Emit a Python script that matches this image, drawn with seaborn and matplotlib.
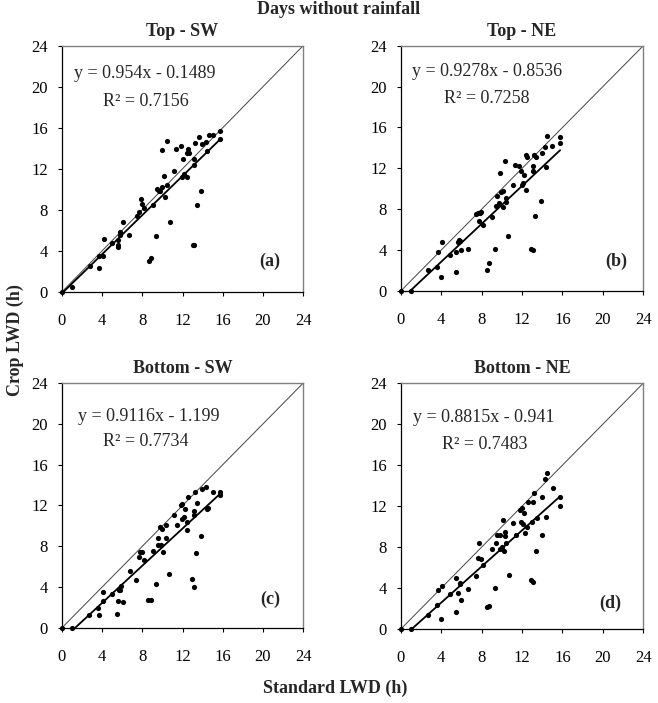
import numpy as np
import pandas as pd
import seaborn as sns
import matplotlib.pyplot as plt

sns.set_style("ticks")
plt.rcParams["font.family"] = ["Liberation Serif", "DejaVu Serif"]

# Data (Standard LWD vs Crop LWD, hours)
a_x = [0, 1.0, 2.77, 3.7, 3.7, 4.1, 4.17, 5.0, 5.53, 5.53, 5.6, 5.8, 5.8, 6.07, 6.7,
       7.47, 7.7, 7.87, 7.97, 8.17, 8.67, 8.9, 9.1, 9.37, 9.43, 9.7, 9.77, 9.93, 9.93,
       10.13, 10.27, 10.43, 10.47, 10.73, 11.13, 11.37, 11.87, 12.0, 11.9, 12.13, 12.43,
       12.47, 12.57, 12.67, 13.0, 13.17, 13.1, 13.1, 13.23, 13.43, 13.6, 13.87, 13.97,
       14.33, 14.47, 14.6, 15.07, 15.77, 15.73]
a_y = [0, 0.43, 2.47, 2.27, 3.5, 3.5, 5.16, 4.77, 4.54, 4.4, 5.07, 5.5, 5.86, 6.8, 5.56,
       7.4, 7.8, 9.05, 8.55, 8.16, 2.96, 3.26, 8.5, 5.43, 10.0, 9.78, 9.8, 10.2, 13.8,
       11.28, 9.2, 14.7, 10.4, 6.84, 11.8, 13.9, 14.2, 12.9, 11.15, 11.5, 13.55,
       11.15, 13.9, 13.55, 4.6, 4.57, 12.4, 12.9, 14.5, 8.45, 15.07, 9.8, 14.4,
       14.6, 13.7, 15.3, 15.26, 15.7, 14.9]

b_x = [0, 1.0, 2.74, 3.63, 3.7, 4.03, 4.1, 4.9, 5.45, 5.5, 5.64, 5.77, 5.87, 6.0, 6.7,
       7.43, 7.6, 7.8, 7.95, 7.7, 8.1, 8.5, 8.78, 9.0, 9.34, 9.47, 9.5, 9.77, 9.87, 9.93,
       10.07, 10.13, 10.33, 10.4, 10.43, 10.63, 11.1, 11.3, 11.75, 11.85, 11.95, 12.1,
       12.2, 12.37, 12.44, 12.5, 12.9, 13.1, 13.04, 13.04, 13.2, 13.43, 13.33, 13.86,
       14.0, 14.3, 14.36, 14.52, 14.98, 15.77, 15.74]
b_y = [0, 0, 2.07, 2.4, 3.8, 1.4, 4.8, 3.5, 1.9, 3.8, 4.77, 5.0, 4.9, 4.05, 4.08,
       7.57, 7.6, 7.63, 7.76, 6.84, 6.45, 2.04, 2.73, 7.2, 4.14, 8.35, 9.3, 8.65, 11.55, 9.64,
       9.74, 8.2, 12.76, 9.1, 8.7, 5.4, 10.36, 12.33, 12.24, 11.7, 10.33, 10.56,
       11.4, 9.87, 13.3, 13.1, 4.14, 4.05, 11.74, 12.24, 13.3, 13.1, 7.33, 8.78,
       13.55, 14.1, 12.17, 15.13, 14.2, 15.07, 14.44]

c_x = [0, 1.0, 2.68, 3.6, 3.7, 4.07, 4.07, 4.97, 5.5, 5.53, 5.63, 5.76, 5.9, 6.03, 6.75,
       7.4, 7.65, 7.8, 8.0, 8.15, 8.54, 8.87, 9.04, 9.34, 9.54, 9.57, 9.8, 9.93, 9.83,
       10.07, 10.33, 10.4, 10.66, 11.1, 11.4, 11.8, 11.9, 11.9, 12.1, 12.2, 12.42, 12.42,
       12.56, 12.9, 13.1, 13.1, 13.1, 13.24, 13.34, 13.48, 13.84, 13.94, 14.37, 14.5,
       14.45, 15.07, 15.76, 15.76]
c_y = [0, 0, 1.25, 1.94, 1.28, 2.66, 3.49, 3.32, 1.38, 2.66, 3.68, 3.75, 4.1, 2.53, 5.6,
       4.7, 6.9, 7.43, 7.43, 6.64, 2.7, 2.7, 7.53, 4.34, 8.85, 8.1, 9.84, 9.67, 8.1,
       7.47, 10.1, 8.85, 5.26, 11.09, 10.1, 12.07, 12.14, 10.63, 10.9, 11.64, 10.4, 9.64,
       12.86, 4.8, 4.0, 11.1, 11.5, 13.3, 7.33, 12.24, 9.0, 13.65, 13.78, 11.74,
       11.7, 13.3, 13.36, 13.06]

d_x = [0, 1.0, 2.74, 3.63, 3.7, 4.03, 4.1, 4.9, 5.45, 5.5, 5.64, 5.84, 5.88, 6.0, 6.7,
       7.43, 7.65, 7.76, 7.95, 8.15, 8.5, 8.78, 9.04, 9.34, 9.47, 9.57, 9.87, 9.87, 9.97,
       10.13, 10.23, 10.36, 10.36, 10.43, 10.7, 11.1, 11.37, 11.78, 11.95, 11.85, 12.08,
       12.2, 12.34, 12.48, 12.6, 12.9, 13.07, 13.0, 13.07, 13.17, 13.37, 13.47, 13.93,
       13.93, 14.36, 14.3, 14.5, 15.05, 15.74, 15.74]
d_y = [0, 0, 1.43, 2.35, 3.8, 0.98, 4.23, 3.39, 1.66, 5.0, 3.55, 4.46, 4.4, 2.83, 3.88,
       5.18, 6.97, 8.44, 6.8, 6.29, 2.12, 2.28, 7.78, 3.97, 8.37, 9.19, 7.82, 9.22, 7.98,
       10.65, 7.65, 9.48, 9.12, 8.4, 5.28, 10.33, 9.22, 11.66, 11.79, 10.46, 10.29,
       11.37, 9.38, 9.97, 12.44, 4.82, 4.56, 10.46, 12.4, 13.29, 7.62, 10.81, 9.22,
       12.87, 10.98, 14.66, 15.28, 13.8, 12.93, 12.02]

titles = ["Top - SW", "Top - NE", "Bottom - SW", "Bottom - NE"]
tags = ["(a)", "(b)", "(c)", "(d)"]
slopes = [0.954, 0.9278, 0.9116, 0.8815]
intercepts = [-0.1489, -0.8536, -1.199, -0.941]
r2 = [0.7156, 0.7258, 0.7734, 0.7483]
eq_labels = ["y = 0.954x - 0.1489", "y = 0.9278x - 0.8536",
             "y = 0.9116x - 1.199", "y = 0.8815x - 0.941"]
ticks = [0, 4, 8, 12, 16, 20, 24]

xs = [a_x, b_x, c_x, d_x]
ys = [a_y, b_y, c_y, d_y]

fig = plt.figure(figsize=(6.58, 7.03), dpi=100)

# axes rectangles (figure fractions)
rects = [
    [0.0942, 0.585, 0.3665, 0.350],
    [0.609, 0.586, 0.3687, 0.349],
    [0.0942, 0.107, 0.3665, 0.348],
    [0.609, 0.105, 0.3687, 0.350],
]
eq_pos = [(0.05, 0.885, 0.17, 0.775), (0.047, 0.893, 0.179, 0.783),
          (0.065, 0.862, 0.17, 0.763), (0.052, 0.862, 0.172, 0.752)]
tag_pos = [(0.905, 0.125), (0.935, 0.12), (0.905, 0.115), (0.91, 0.107)]

for i in range(4):
    ax = fig.add_axes(rects[i])
    df = pd.DataFrame({"std": xs[i], "crop": ys[i]})

    # 1:1 line
    ax.plot([0, 24], [0, 24], color="#444444", lw=0.7, zorder=1)
    # trendline over data range
    xr = np.array([min(xs[i]), max(xs[i])])
    ax.plot(xr, slopes[i] * xr + intercepts[i], color="black", lw=1.3, zorder=2)

    sns.scatterplot(data=df, x="std", y="crop", ax=ax, color="black", s=14,
                    edgecolor="black", linewidth=0, zorder=3, clip_on=False)

    ax.set_xlim(0, 24)
    ax.set_ylim(0, 24)
    ax.set_xticks(ticks)
    ax.set_yticks(ticks)
    ax.tick_params(direction="out", length=3, width=0.8, labelsize=12, pad=7,
                   colors="black")
    ax.tick_params(axis="x", pad=12)
    ax.set_xlabel("")
    ax.set_ylabel("")
    for side in ["left", "bottom"]:
        ax.spines[side].set_color("black")
        ax.spines[side].set_linewidth(0.9)
    for side in ["top", "right"]:
        ax.spines[side].set_color("#808080")
        ax.spines[side].set_linewidth(1.0)

    ax.set_title(titles[i], fontsize=13, fontweight="bold", pad=7)
    ex, ey, rx, ry = eq_pos[i]
    ax.text(ex, ey, eq_labels[i], transform=ax.transAxes, fontsize=13,
            va="center", ha="left")
    ax.text(rx, ry, "R² = %.4f" % r2[i], transform=ax.transAxes, fontsize=13,
            va="center", ha="left")
    tx, ty = tag_pos[i]
    ax.text(tx, ty, tags[i], transform=ax.transAxes, fontsize=13,
            fontweight="bold", va="center", ha="right")

fig.text(0.514, 1 - 1 / 703, "Days without rainfall", fontsize=13,
         fontweight="bold", ha="center", va="top")
fig.text(0.51, 1 - 688 / 703, "Standard LWD (h)", fontsize=13,
         fontweight="bold", ha="center", va="center")
fig.text(0.023, 1 - 340 / 703, "Crop LWD (h)", fontsize=13,
         fontweight="bold", ha="center", va="center", rotation=90)

fig.savefig("out.png", dpi=100)
